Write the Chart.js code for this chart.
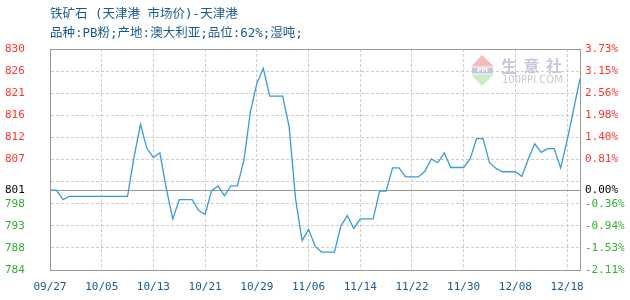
<!DOCTYPE html>
<html>
<head>
<meta charset="utf-8">
<script src="https://cdn.jsdelivr.net/npm/chart.js@4"></script>
<style>
    html, body { margin: 0; padding: 0; background: #fff; }
</style>
</head>
<body>
<canvas id="priceChart" width="630" height="300"></canvas>
<script>
// Données
const dates = [
    '09/27', '09/28', '09/29', '09/30',
    '10/01', '10/02', '10/03', '10/04', '10/05', '10/06', '10/07', '10/08', '10/09', '10/10',
    '10/11', '10/12', '10/13', '10/14', '10/15', '10/16', '10/17', '10/18', '10/19', '10/20',
    '10/21', '10/22', '10/23', '10/24', '10/25', '10/26', '10/27', '10/28', '10/29', '10/30', '10/31',
    '11/01', '11/02', '11/03', '11/04', '11/05', '11/06', '11/07', '11/08', '11/09', '11/10',
    '11/11', '11/12', '11/13', '11/14', '11/15', '11/16', '11/17', '11/18', '11/19', '11/20',
    '11/21', '11/22', '11/23', '11/24', '11/25', '11/26', '11/27', '11/28', '11/29', '11/30',
    '12/01', '12/02', '12/03', '12/04', '12/05', '12/06', '12/07', '12/08', '12/09', '12/10',
    '12/11', '12/12', '12/13', '12/16', '12/17', '12/18', '12/19', '12/20'
];

const prices = [
    801, 801, 799.0, 799.7, 799.7, 799.7, 799.7, 799.7, 799.7, 799.7,
    799.7, 799.7, 799.7, 808.0, 814.9, 809.8, 807.9, 808.9, 801.3, 794.9,
    799.0, 799.0, 799.0, 796.7, 795.9, 800.9, 801.9, 799.8, 801.9, 801.9,
    807.3, 817.5, 823.6, 826.8, 820.9, 820.9, 820.9, 814.4, 799.1, 790.3,
    792.7, 789.2, 787.9, 787.9, 787.9, 793.4, 795.6, 792.9, 794.9, 794.9,
    794.9, 800.8, 800.8, 805.7, 805.7, 803.8, 803.8, 803.8, 805.0, 807.6,
    806.8, 808.9, 805.8, 805.8, 805.8, 807.6, 811.9, 811.9, 806.8, 805.6,
    804.9, 804.9, 804.9, 803.9, 807.6, 810.8, 809.0, 809.8, 809.8, 805.7,
    811.5, 818.0, 824.6
];

const xTickLabels = ['09/27', '10/05', '10/13', '10/21', '10/29', '11/06', '11/14', '11/22', '11/30', '12/08', '12/18'];

// de bas en haut, la ligne de base (801) incluse
const leftTickLabels = ['784', '788', '793', '798', '801', '', '807', '812', '816', '821', '826', '830'];
const rightTickLabels = ['-2.11%', '-1.53%', '-0.94%', '-0.36%', '0.00%', '', '0.81%', '1.40%', '1.98%', '2.56%', '3.15%', '3.73%'];

const basePrice = 801;
const topPct = 3.73;
const bottomPct = -2.11;

const titleLines = ['铁矿石 (天津港 市场价)-天津港', '品种:PB粉;产地:澳大利亚;品位:62%;湿吨;'];

const RED = '#ff3333';
const GREEN = '#33b033';
const BLUE_TEXT = '#1a5a8c';
const GRID = '#cccccc';
const FRAME = '#999999';

const buildPriceTicks = (scale) => {
    const step = (scale.max - scale.min) / 10;
    const vals = [];
    for (let k = 0; k <= 10; k++) vals.push(scale.min + k * step);
    vals.push(basePrice);
    vals.sort((a, b) => a - b);
    scale.ticks = vals.map(v => ({ value: v }));
};

const tickColor = (ctx) => {
    const v = ctx.tick.value;
    if (Math.abs(v - basePrice) < 0.01) return '#000000';
    return v > basePrice ? RED : GREEN;
};

// ligne de base pleine + filigrane
const baseLinePlugin = {
    id: 'baseLine',
    beforeDatasetsDraw(chart) {
        const { ctx, chartArea, scales } = chart;
        const y = Math.round(scales.y.getPixelForValue(basePrice)) + 0.5;
        ctx.save();
        ctx.strokeStyle = FRAME;
        ctx.lineWidth = 1;
        ctx.beginPath();
        ctx.moveTo(chartArea.left, y);
        ctx.lineTo(chartArea.right, y);
        ctx.stroke();
        ctx.restore();
    }
};

const watermarkPlugin = {
    id: 'watermark',
    beforeDatasetsDraw(chart) {
        const ctx = chart.ctx;
        ctx.save();
        ctx.fillStyle = '#f6bcbc';
        ctx.beginPath();
        ctx.moveTo(482, 55);
        ctx.lineTo(494, 66.5);
        ctx.lineTo(471, 66.5);
        ctx.closePath();
        ctx.fill();
        ctx.fillStyle = '#c4c8d8';
        ctx.fillRect(472, 67.5, 21, 6);
        ctx.fillStyle = '#ffffff';
        ctx.font = 'bold 6px "DejaVu Sans"';
        ctx.textAlign = 'center';
        ctx.textBaseline = 'middle';
        ctx.fillText('PPI', 482.5, 70.7);
        ctx.fillStyle = '#c8ecc8';
        ctx.beginPath();
        ctx.moveTo(471, 74.5);
        ctx.lineTo(494, 74.5);
        ctx.lineTo(482, 86);
        ctx.closePath();
        ctx.fill();
        ctx.fillStyle = '#c5c9dd';
        ctx.font = 'bold 16px "Noto Sans CJK SC"';
        ['生', '意', '社'].forEach((ch, i) => ctx.fillText(ch, 509 + i * 22.5, 65.5));
        ctx.fillStyle = '#c8c8c8';
        ctx.font = '10px "DejaVu Sans"';
        ctx.textAlign = 'left';
        ctx.fillText('100PPI.COM', 502, 80.5, 61);
        ctx.restore();
    }
};

const tickFont = { family: '"DejaVu Sans Mono", monospace', size: 11 };

const initChart = () => {
    const ctx = document.getElementById('priceChart').getContext('2d');
    return new Chart(ctx, {
        type: 'line',
        data: {
            labels: dates,
            datasets: [{
                data: prices,
                borderColor: '#3a9ad8',
                borderWidth: 1.3,
                pointRadius: 0,
                tension: 0,
                fill: false
            }]
        },
        options: {
            responsive: false,
            animation: false,
            layout: { padding: { left: 5, right: 0, top: 0, bottom: 0 } },
            plugins: {
                legend: { display: false },
                tooltip: { enabled: false },
                title: {
                    display: true,
                    text: titleLines,
                    align: 'start',
                    fullSize: false,
                    color: BLUE_TEXT,
                    font: { family: '"DejaVu Sans Mono", "Noto Sans CJK SC"', size: 12.5, weight: 'normal', lineHeight: '19px' },
                    padding: { top: 5, bottom: 6 }
                }
            },
            scales: {
                x: {
                    type: 'category',
                    offset: false,
                    grid: {
                        offset: false,
                        drawTicks: false,
                        lineWidth: 1,
                        color: (c) => (c.index > 0 && xTickLabels.includes(dates[c.index])) ? GRID : 'rgba(0,0,0,0)'
                    },
                    border: { color: FRAME, width: 1, dash: [3, 2] },
                    ticks: {
                        autoSkip: false,
                        maxRotation: 0,
                        padding: 11,
                        color: BLUE_TEXT,
                        font: tickFont,
                        callback: (v, i) => xTickLabels.includes(dates[i]) ? dates[i] : ''
                    },
                    afterFit: (s) => { s.height = 30; }
                },
                xTop: {
                    type: 'linear',
                    position: 'top',
                    grid: { display: false, drawTicks: false },
                    ticks: { display: false },
                    border: { color: FRAME, width: 1 },
                    afterFit: (s) => { s.height = 0; }
                },
                y: {
                    position: 'left',
                    min: basePrice * (1 + bottomPct / 100),
                    max: basePrice * (1 + topPct / 100),
                    afterBuildTicks: buildPriceTicks,
                    grid: {
                        drawTicks: false,
                        color: (c) => (c.tick && Math.abs(c.tick.value - basePrice) < 0.01) ? 'rgba(0,0,0,0)' : GRID
                    },
                    border: { color: FRAME, width: 1, dash: [3, 2] },
                    ticks: {
                        autoSkip: false,
                        crossAlign: 'far',
                        padding: 0,
                        font: tickFont,
                        color: tickColor,
                        callback: (v, i) => leftTickLabels[i]
                    },
                    afterFit: (s) => { s.width = 45; }
                },
                y2: {
                    position: 'right',
                    min: basePrice * (1 + bottomPct / 100),
                    max: basePrice * (1 + topPct / 100),
                    afterBuildTicks: buildPriceTicks,
                    grid: { display: false, drawTicks: false },
                    border: { color: FRAME, width: 1 },
                    ticks: {
                        autoSkip: false,
                        padding: 5,
                        font: tickFont,
                        color: tickColor,
                        callback: (v, i) => rightTickLabels[i]
                    },
                    afterFit: (s) => { s.width = 50; }
                }
            }
        },
        plugins: [baseLinePlugin, watermarkPlugin]
    });
};

initChart();
</script>
</body>
</html>
